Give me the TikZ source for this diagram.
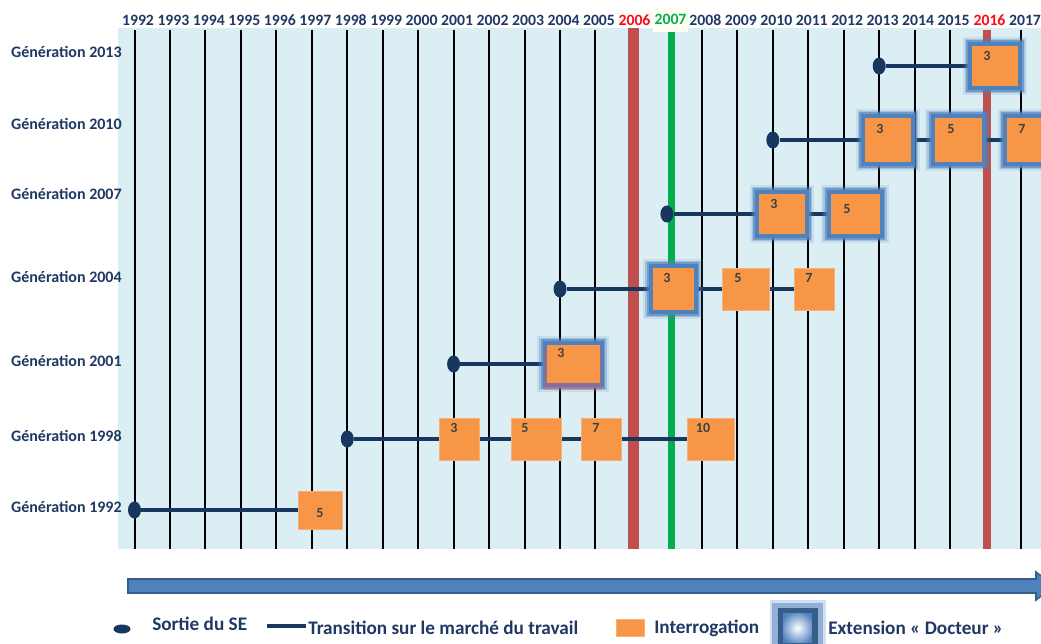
\documentclass[tikz,border=0pt]{standalone}
\usepackage{fontspec}
\setmainfont{Carlito}
\usetikzlibrary{shapes.geometric, shadows}
\definecolor{bgblue}{RGB}{219,238,244}
\definecolor{navy}{RGB}{23,55,94}
\definecolor{txtnavy}{RGB}{31,56,100}
\definecolor{numgray}{RGB}{64,64,64}
\definecolor{interorange}{RGB}{247,150,70}
\definecolor{glowblue}{RGB}{79,129,189}
\definecolor{darkblue}{RGB}{56,93,138}
\definecolor{barred}{RGB}{192,80,77}
\definecolor{bargreen}{RGB}{0,176,80}
\definecolor{yrred}{RGB}{250,10,20}
\definecolor{yrgreen}{RGB}{0,176,80}
\definecolor{yrbg}{RGB}{255,255,242}
\pgfdeclarelayer{grid}
\pgfdeclarelayer{links}
\pgfsetlayers{grid,links,main}
\tikzset{
  gridline/.style={black, line width=1.5pt},
  yearlbl/.style={font=\bfseries\fontsize{11.8}{13}\selectfont, text=txtnavy, inner sep=1pt},
  genlbl/.style={font=\bfseries\fontsize{12}{14}\selectfont, text=txtnavy, anchor=east, inner sep=0pt},
  sortie/.style={ellipse, fill=navy, minimum width=9.75pt, minimum height=12.75pt, inner sep=0pt},
  interro/.style={rectangle, fill=interorange, draw=interorange!75!white, line width=0.5pt, inner sep=0pt},
  docteur/.style={interro, draw=none,
    preaction={draw=glowblue, line width=14pt, rounded corners=7pt, opacity=0.15},
    preaction={draw=glowblue, line width=11pt, rounded corners=5pt, opacity=0.3},
    preaction={draw=glowblue, line width=8.5pt, rounded corners=3.5pt, opacity=0.6},
    preaction={draw=glowblue, line width=6pt, rounded corners=2pt}},
  extlegend/.style={rectangle, minimum size=26pt, inner sep=0pt,
    inner color=white, outer color=glowblue, draw=darkblue, line width=4pt,
    preaction={draw=glowblue, line width=16pt, rounded corners=7pt, opacity=0.25},
    preaction={draw=glowblue, line width=12pt, rounded corners=5pt, opacity=0.5}},
  num/.style={font=\bfseries\fontsize{10.5}{12}\selectfont, text=numgray, inner sep=0pt},
  transition/.style={navy, line width=2.6pt},
  legend/.style={font=\bfseries\fontsize{14.4}{16}\selectfont, text=txtnavy, anchor=west, inner sep=0pt}
}
\begin{document}
\begin{tikzpicture}[x=0.75pt, y=-0.75pt]
\useasboundingbox (0,0) rectangle (1041,643);
\clip (0,0) rectangle (1041,643);

% background, year lines and marked years
\begin{pgfonlayer}{grid}
\fill[bgblue] (118,28) rectangle (1041,549);
\foreach \yr in {1992,...,2005}
  \draw[gridline] ({134.5+35.46*(\yr-1992)},30) -- ({134.5+35.46*(\yr-1992)},549);
\foreach \yr in {2008,...,2015}
  \draw[gridline] ({134.5+35.46*(\yr-1992)},30) -- ({134.5+35.46*(\yr-1992)},549);
\draw[gridline] (1021,30) -- (1021,549);
\fill[barred] (628,28) rectangle (639,549);
\fill[barred] (982.5,30) rectangle (991,549);
\fill[bargreen] (668,30) rectangle (675,549);
\end{pgfonlayer}

% years
\foreach \yr in {1992,...,2005}
  \node[yearlbl] (y\yr) at ({138+35.46*(\yr-1992)},20) {\yr};
\foreach \yr in {2008,...,2015}
  \node[yearlbl] (y\yr) at ({138+35.46*(\yr-1992)},20) {\yr};
\node[yearlbl] (y2017) at (1025,20) {2017};
\node[yearlbl, text=yrred] (y2006) at (634.5,20) {2006};
\node[yearlbl, text=yrgreen, fill=yrbg, minimum height=20pt] (y2007) at (670.5,19) {2007};
\node[yearlbl, text=yrred] (y2016) at (989.5,20) {2016};

% generations
\node[genlbl] (g2013) at (122,52) {Génération 2013};
\node[genlbl] (g2010) at (122,124) {Génération 2010};
\node[genlbl] (g2007) at (122,194) {Génération 2007};
\node[genlbl] (g2004) at (122,277) {Génération 2004};
\node[genlbl] (g2001) at (122,361) {Génération 2001};
\node[genlbl] (g1998) at (122,436) {Génération 1998};
\node[genlbl] (g1992) at (122,507) {Génération 1992};

% Génération 2013
\node[sortie] (d13) at (879.2,66) {};
\node[docteur, minimum width=34.5pt, minimum height=30pt] (b13a) at (995,66) {};
\node[num] (n13a) at (987,56) {3};

% Génération 2010
\node[sortie] (d10) at (772.8,140) {};
\node[docteur, minimum width=34.5pt, minimum height=33pt] (b10a) at (888,140) {};
\node[docteur, minimum width=35.25pt, minimum height=33pt] (b10b) at (958,140) {};
\node[docteur, minimum width=34.5pt, minimum height=33pt] (b10c) at (1030,140) {};
\node[num] (n10a) at (880,129) {3};
\node[num] (n10b) at (951,129) {5};
\node[num] (n10c) at (1022,129) {7};

% Génération 2007
\node[sortie] (d07) at (666.9,214) {};
\node[docteur, minimum width=34.5pt, minimum height=30pt] (b07a) at (782,214) {};
\node[docteur, minimum width=36.75pt, minimum height=30pt] (b07b) at (855,214) {};
\node[num] (n07a) at (774,204) {3};
\node[num] (n07b) at (847,209) {5};

% Génération 2004
\node[sortie] (d04) at (560,289) {};
\node[docteur, minimum width=30.75pt, minimum height=31.5pt] (b04a) at (673,289) {};
\node[interro, minimum width=35.25pt, minimum height=31.5pt] (b04b) at (746,289) {};
\node[interro, minimum width=30pt, minimum height=31.5pt] (b04c) at (814,289) {};
\node[num] (n04a) at (667,278) {3};
\node[num] (n04b) at (738,278) {5};
\node[num] (n04c) at (809,278) {7};

% Génération 2001
\node[sortie] (d01) at (453.6,364) {};
\node[docteur, drop shadow={fill=red!70, opacity=0.3, shadow xshift=0pt, shadow yshift=-3.5pt, shadow scale=1.08},
  minimum width=39.75pt, minimum height=28.5pt] (b01a) at (573,364) {};
\node[num] (n01a) at (561,353) {3};

% Génération 1998
\node[sortie] (d98) at (347.3,439) {};
\node[interro, minimum width=30pt, minimum height=31.5pt] (b98a) at (459,439) {};
\node[interro, minimum width=37.5pt, minimum height=31.5pt] (b98b) at (536,439) {};
\node[interro, minimum width=30pt, minimum height=31.5pt] (b98c) at (601,439) {};
\node[interro, minimum width=35.25pt, minimum height=31.5pt] (b98d) at (711,439) {};
\node[num] (n98a) at (454,428) {3};
\node[num] (n98b) at (525,428) {5};
\node[num] (n98c) at (596,428) {7};
\node[num] (n98d) at (703,428) {10};

% Génération 1992
\node[sortie] (d92) at (134.5,510) {};
\node[interro, minimum width=33pt, minimum height=28.5pt] (b92a) at (320,510) {};
\node[num] (n92a) at (320,513) {5};

% transitions
\begin{pgfonlayer}{links}
\draw[transition] (d13) -- (b13a);
\draw[transition] (d10) -- (b10a) -- (b10b) -- (b10c);
\draw[transition] (d07) -- (b07a) -- (b07b);
\draw[transition] (d04) -- (b04a) -- (b04b) -- (b04c);
\draw[transition] (d01) -- (b01a);
\draw[transition] (d98) -- (b98a) -- (b98b) -- (b98c) -- (b98d);
\draw[transition] (d92) -- (b92a);
\end{pgfonlayer}

% time arrow
\fill[glowblue, draw=darkblue, line width=1.2pt] (128,579) -- (1036,579) -- (1036,572) -- (1054,586) -- (1036,600) -- (1036,593) -- (128,593) -- cycle;

% legend
\node[sortie, minimum width=12.75pt, minimum height=6.75pt] (lgdot) at (122,629) {};
\node[legend] (lgsortie) at (152,624) {Sortie du SE};
\coordinate (lgl1) at (267,626);
\coordinate (lgl2) at (306,626);
\draw[transition] (lgl1) -- (lgl2);
\node[legend] (lgtrans) at (308,628) {Transition sur le marché du travail};
\node[interro, minimum width=21pt, minimum height=12.75pt] (lgint) at (630.5,627.5) {};
\node[legend] (lginter) at (654,628) {Interrogation};
\node[extlegend] (lgext) at (797.5,628) {};
\node[legend] (lgextt) at (828,628) {Extension « Docteur »};
\end{tikzpicture}
\end{document}
